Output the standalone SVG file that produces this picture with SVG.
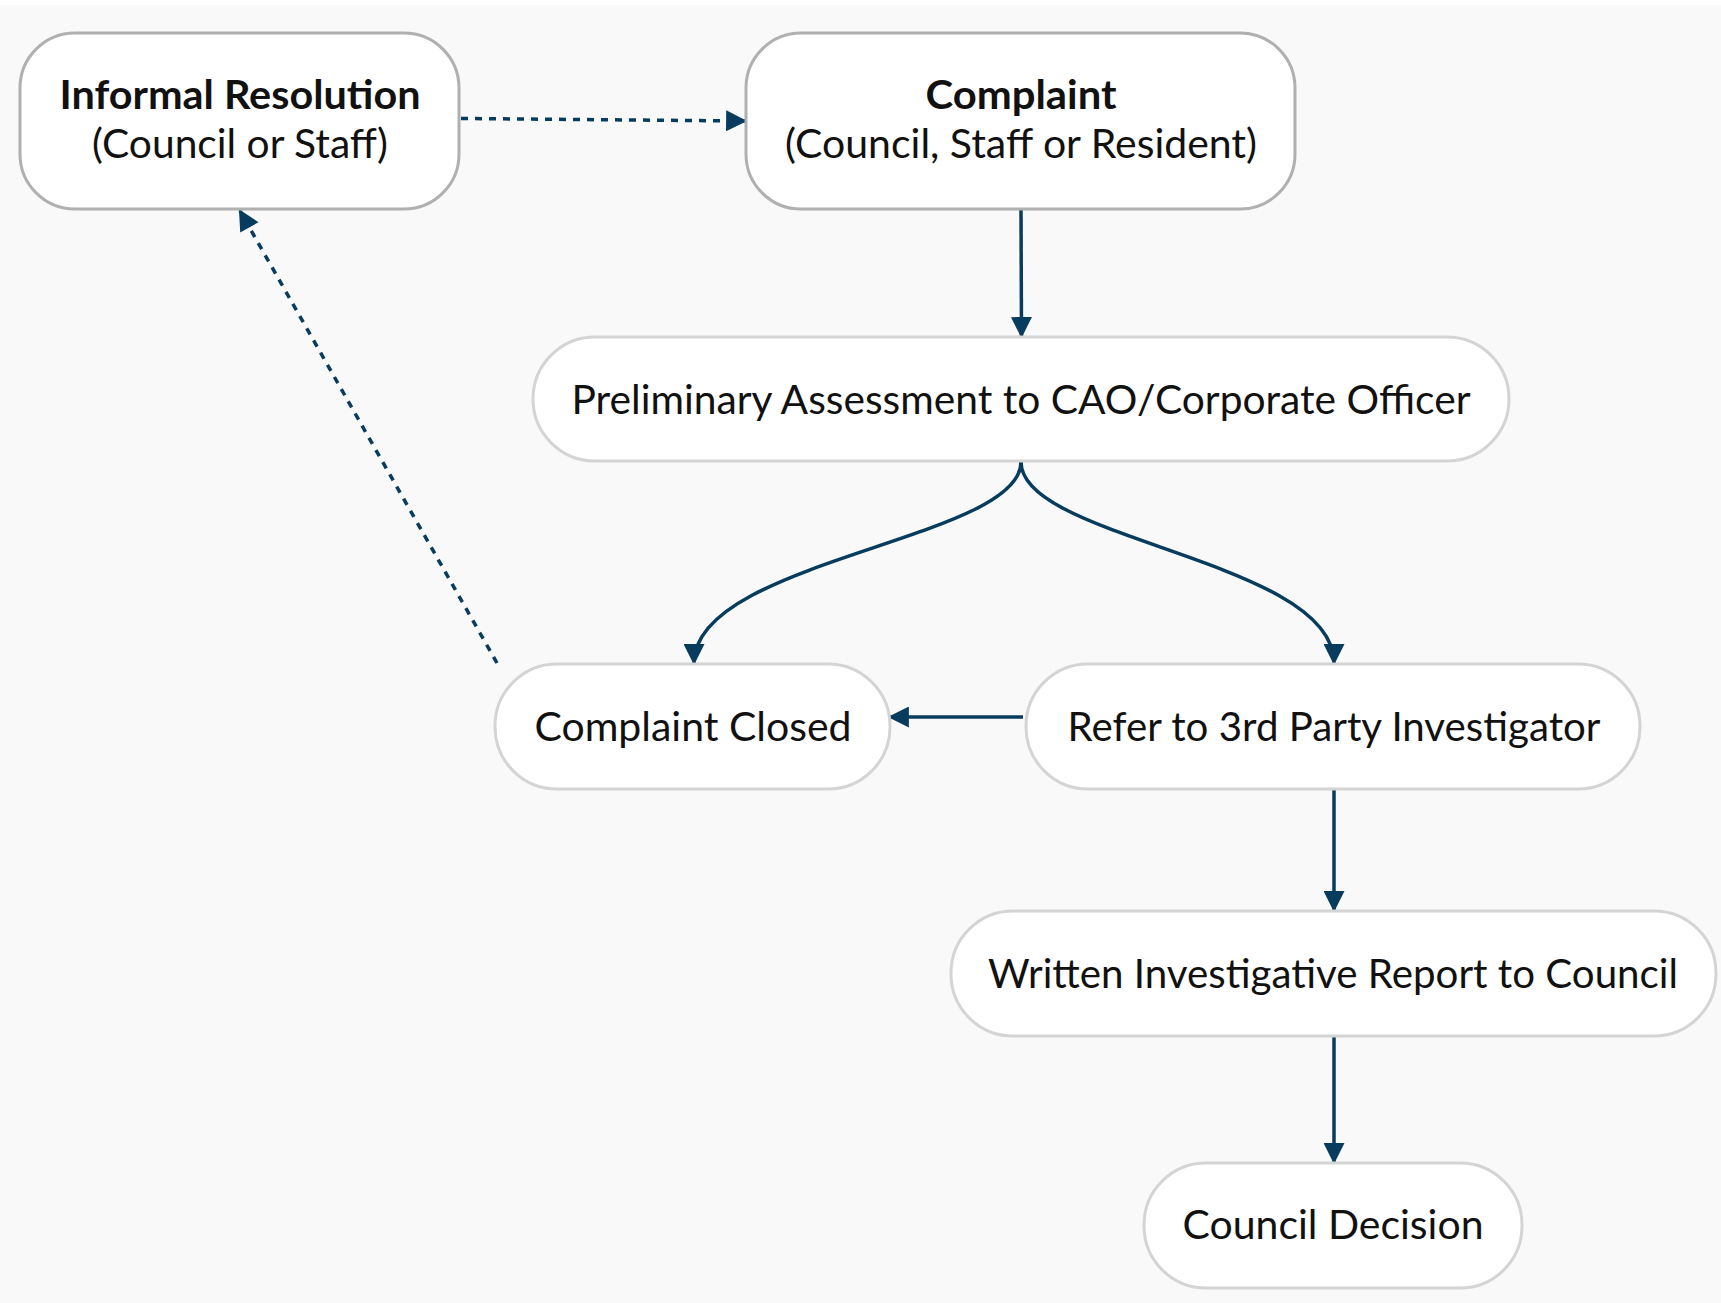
<svg xmlns="http://www.w3.org/2000/svg" width="1721" height="1303" viewBox="0 0 1721 1303">
<defs>
<style>
.box{fill:#ffffff;stroke:#d4d4d4;stroke-width:3}
.box.dark{stroke:#b0b0b0}
.t{font-family:Lato,"Liberation Sans",sans-serif;font-size:40px;fill:#111111;text-anchor:middle}
.b{font-weight:bold}
.c{fill:none;stroke:#073c5e;stroke-width:3.5}
.d{stroke-dasharray:7 7}
</style>
<marker id="ah" viewBox="0 0 10 10" refX="9" refY="5" markerWidth="6.5" markerHeight="6" markerUnits="strokeWidth" orient="auto">
<path d="M0,0 L10,5 L0,10 z" fill="#073c5e"/>
</marker>
</defs>
<rect x="0" y="0" width="1721" height="1303" fill="#f9f9f9"/>
<rect x="0" y="0" width="1721" height="5" fill="#ffffff"/>
<g id="connectors">
<path class="c d" d="M461,118.5 L745,121" marker-end="url(#ah)"/>
<path class="c" d="M1021,209 L1021.5,336" marker-end="url(#ah)"/>
<path class="c" d="M1021,462 C1021,540 694,560 694,663" marker-end="url(#ah)"/>
<path class="c" d="M1021,462 C1021,540 1334,560 1334,663" marker-end="url(#ah)"/>
<path class="c" d="M1023,717 L890,717" marker-end="url(#ah)"/>
<path class="c d" d="M497,663 L240,211" marker-end="url(#ah)"/>
<path class="c" d="M1334,789 L1334,910" marker-end="url(#ah)"/>
<path class="c" d="M1334,1036 L1334,1162" marker-end="url(#ah)"/>
</g>
<g id="informal">
<rect class="box dark" x="20" y="33" width="439" height="176" rx="55"/>
<text class="t b" x="240" y="109" textLength="361" lengthAdjust="spacingAndGlyphs">Informal Resolution</text>
<text class="t" x="240" y="158" textLength="296" lengthAdjust="spacingAndGlyphs">(Council or Staff)</text>
</g>
<g id="complaint">
<rect class="box dark" x="746" y="33" width="549" height="176" rx="55"/>
<text class="t b" x="1021" y="109" textLength="191" lengthAdjust="spacingAndGlyphs">Complaint</text>
<text class="t" x="1021" y="158" textLength="472" lengthAdjust="spacingAndGlyphs">(Council, Staff or Resident)</text>
</g>
<g id="preliminary">
<rect class="box" x="533" y="337" width="976" height="124" rx="62"/>
<text class="t" x="1021" y="414" textLength="899" lengthAdjust="spacingAndGlyphs">Preliminary Assessment to CAO/Corporate Officer</text>
</g>
<g id="closed">
<rect class="box" x="495" y="664" width="395" height="125" rx="62"/>
<text class="t" x="693" y="741" textLength="317" lengthAdjust="spacingAndGlyphs">Complaint Closed</text>
</g>
<g id="refer">
<rect class="box" x="1026" y="664" width="614" height="125" rx="62"/>
<text class="t" x="1334" y="741" textLength="533" lengthAdjust="spacingAndGlyphs">Refer to 3rd Party Investigator</text>
</g>
<g id="written">
<rect class="box" x="951" y="911" width="765" height="125" rx="62"/>
<text class="t" x="1333" y="988" textLength="690" lengthAdjust="spacingAndGlyphs">Written Investigative Report to Council</text>
</g>
<g id="decision">
<rect class="box" x="1144" y="1163" width="378" height="125" rx="62"/>
<text class="t" x="1333" y="1239" textLength="301" lengthAdjust="spacingAndGlyphs">Council Decision</text>
</g>
</svg>
